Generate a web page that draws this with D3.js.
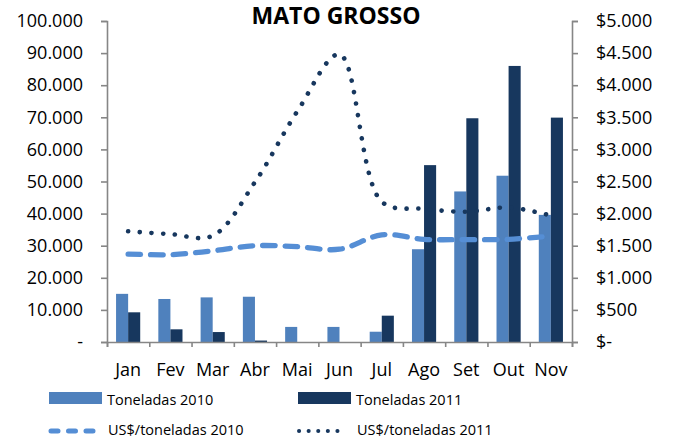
<!DOCTYPE html>
<html>
<head>
<meta charset="utf-8">
<script src="https://cdn.jsdelivr.net/npm/d3@7"></script>
<style>
  body { margin: 0; background: #fff; }
  text { font-family: "Open Sans", sans-serif; fill: #000; }
</style>
</head>
<body>
<div class="chart"></div>
<script>
// data
var months = ["Jan", "Fev", "Mar", "Abr", "Mai", "Jun", "Jul", "Ago", "Set", "Out", "Nov"]
var ton2010 = [15000, 13400, 13900, 14100, 4700, 4700, 3200, 28900, 46900, 51800, 39600]
var ton2011 = [9250, 3950, 3100, 450, 0, 0, 8200, 55100, 69700, 86000, 69900]
var usd2010 = [1370, 1360, 1420, 1500, 1485, 1445, 1670, 1600, 1595, 1600, 1650]
var usd2011 = [1725, 1680, 1655, 2490, 3590, 4480, 2185, 2075, 2030, 2095, 1970]
var leftTicks = [0, 10000, 20000, 30000, 40000, 50000, 60000, 70000, 80000, 90000, 100000]
var rightTicks = [0, 500, 1000, 1500, 2000, 2500, 3000, 3500, 4000, 4500, 5000]

var W = 673, H = 438
var svg = d3.select(".chart").append("svg").attr("width", W).attr("height", H)

var pLeft = 107, pRight = 572, pTop = 21, pBottom = 342
var axisColor = "#868686"
var c2010 = "#4f81bd", c2011 = "#17375e", cLine2010 = "#558ed5"

var x = d3.scaleBand().domain(months).range([pLeft, pRight]).paddingInner(0).paddingOuter(0)
var xb = d3.scaleBand().domain(["2010", "2011"]).range([0, x.bandwidth()]).paddingInner(0).paddingOuter(0.75)
var xEdge = d3.scaleLinear().domain([0, months.length]).range([pLeft, pRight])
var yL = d3.scaleLinear().domain([0, 100000]).range([pBottom, pTop])
var yR = d3.scaleLinear().domain([0, 5000]).range([pBottom, pTop])

var fmtL = function(d) { return d == 0 ? "-" : d3.format(",")(d).replace(/,/g, ".") }
var fmtR = function(d) { return d == 0 ? "$-" : "$" + d3.format(",")(d).replace(/,/g, ".") }

// bars
var rows = months.map((m, i) => ({m: m, a: ton2010[i], b: ton2011[i]}))
var g = svg.append("g")
g.selectAll(".b10").data(rows).enter().append("rect")
  .attr("x", d => x(d.m) + xb("2010"))
  .attr("y", d => yL(d.a))
  .attr("width", xb.bandwidth())
  .attr("height", d => pBottom - yL(d.a))
  .attr("fill", c2010)
g.selectAll(".b11").data(rows).enter().append("rect")
  .attr("x", d => x(d.m) + xb("2011"))
  .attr("y", d => yL(d.b))
  .attr("width", xb.bandwidth())
  .attr("height", d => pBottom - yL(d.b))
  .attr("fill", c2011)

// lines (smoothed like the spreadsheet)
var line = d3.line()
  .x((d, i) => x(months[i]) + x.bandwidth() / 2)
  .y(d => yR(d))
  .curve(d3.curveCatmullRom.alpha(0.5))

svg.append("path").datum(usd2010).attr("d", line)
  .attr("fill", "none").attr("stroke", cLine2010).attr("stroke-width", 5.3)
  .attr("stroke-linecap", "round").attr("stroke-dasharray", "12.5,10")
svg.append("path").datum(usd2011).attr("d", line)
  .attr("fill", "none").attr("stroke", c2011).attr("stroke-width", 4.6)
  .attr("stroke-linecap", "round").attr("stroke-dasharray", "0.1,11.6")

// axes
function styleAxis(sel) {
  sel.select(".domain").attr("stroke", axisColor).attr("stroke-width", 1.6)
  sel.selectAll(".tick line").attr("stroke", axisColor).attr("stroke-width", 1.6)
  sel.selectAll("text").style("font-family", "Open Sans").style("font-size", "18px").attr("fill", "#000")
}

var axL = svg.append("g").attr("transform", "translate(" + pLeft + ",0)")
  .call(d3.axisLeft(yL).tickValues(leftTicks).tickFormat(fmtL).tickSizeOuter(0).tickSize(6).tickPadding(18))
styleAxis(axL)

var axR = svg.append("g").attr("transform", "translate(" + pRight + ",0)")
  .call(d3.axisRight(yR).tickValues(rightTicks).tickFormat(fmtR).tickSizeOuter(0).tickSize(6).tickPadding(18))
styleAxis(axR)

var axB = svg.append("g").attr("transform", "translate(0," + pBottom + ")")
  .call(d3.axisBottom(xEdge).tickValues(d3.range(months.length + 1)).tickFormat("").tickSizeOuter(0).tickSize(5))
styleAxis(axB)

var axBL = svg.append("g").attr("transform", "translate(0," + pBottom + ")")
  .call(d3.axisBottom(x).tickSize(0).tickPadding(21))
axBL.select(".domain").remove()
axBL.selectAll("text").style("font-family", "Open Sans").style("font-size", "18px").attr("fill", "#000")

// title
svg.append("text").attr("x", 336).attr("y", 24).attr("text-anchor", "middle")
  .text("MATO GROSSO").style("font-size", "23px").style("font-weight", "bold")

// legend
var lg = svg.append("g")
lg.append("rect").attr("x", 49).attr("y", 392).attr("width", 53).attr("height", 12).attr("fill", c2010)
lg.append("rect").attr("x", 298).attr("y", 392).attr("width", 53).attr("height", 12).attr("fill", c2011)
lg.append("line").attr("x1", 51).attr("x2", 96).attr("y1", 431).attr("y2", 431)
  .attr("stroke", cLine2010).attr("stroke-width", 5).attr("stroke-linecap", "round").attr("stroke-dasharray", "7,10.5")
lg.append("line").attr("x1", 299).attr("x2", 346).attr("y1", 431).attr("y2", 431)
  .attr("stroke", c2011).attr("stroke-width", 4).attr("stroke-linecap", "round").attr("stroke-dasharray", "0.1,9.5")

lg.append("text").attr("x", 107).attr("y", 405).text("Toneladas 2010").style("font-size", "14.5px")
lg.append("text").attr("x", 356).attr("y", 405).text("Toneladas 2011").style("font-size", "14.5px")
lg.append("text").attr("x", 108).attr("y", 435).text("US$/toneladas 2010").style("font-size", "14.5px")
lg.append("text").attr("x", 357).attr("y", 435).text("US$/toneladas 2011").style("font-size", "14.5px")
</script>
</body>
</html>
